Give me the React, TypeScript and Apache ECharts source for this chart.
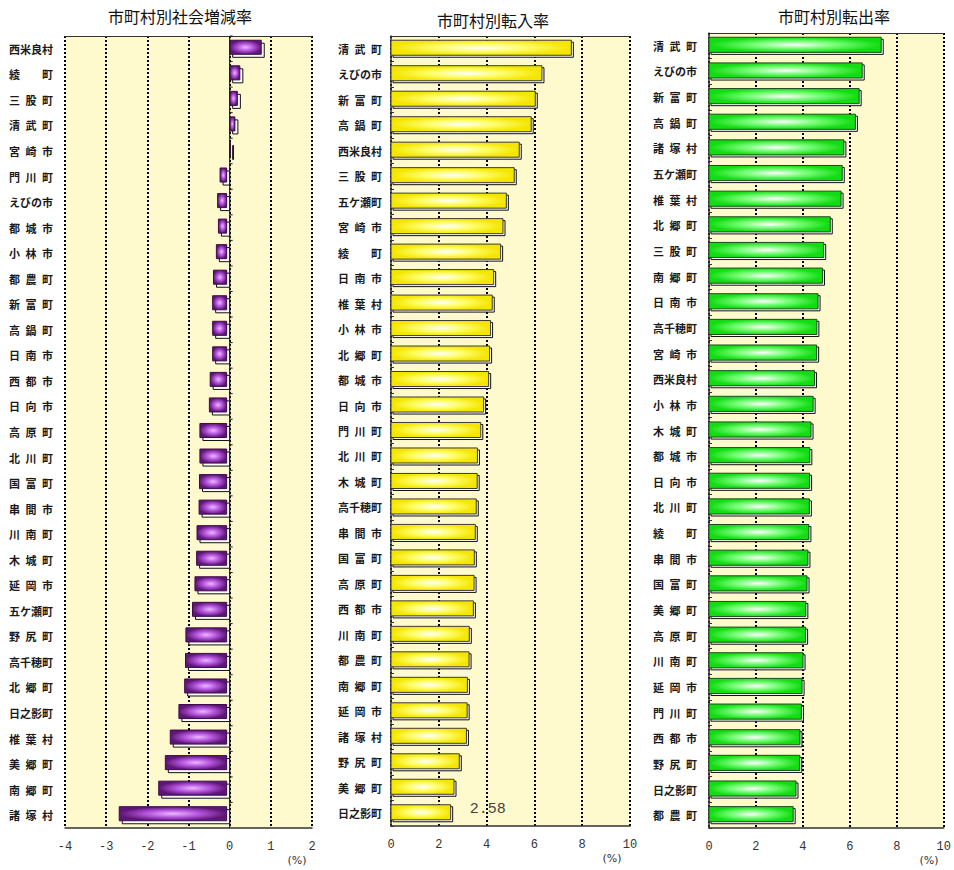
import React, { useEffect, useRef } from 'react';
import * as echarts from 'echarts';

// ---------- data ----------
const TITLES = ['市町村別社会増減率', '市町村別転入率', '市町村別転出率'];
const UNIT_LABEL = '(%)';

const SOCIAL_CATEGORIES = ['西米良村', '綾町', '三股町', '清武町', '宮崎市', '門川町', 'えびの市', '都城市', '小林市', '都農町', '新富町', '高鍋町', '日南市', '西都市', '日向市', '高原町', '北川町', '国富町', '串間市', '川南町', '木城町', '延岡市', '五ケ瀬町', '野尻町', '高千穂町', '北郷町', '日之影町', '椎葉村', '美郷町', '南郷町', '諸塚村'];
const SOCIAL_VALUES = [0.84, 0.32, 0.26, 0.2, 0.06, -0.16, -0.22, -0.2, -0.25, -0.32, -0.34, -0.34, -0.34, -0.4, -0.42, -0.65, -0.65, -0.66, -0.67, -0.72, -0.73, -0.77, -0.83, -0.99, -1.0, -1.02, -1.16, -1.37, -1.49, -1.65, -2.61];
const SOCIAL_AXIS = { min: -4, max: 2, interval: 1 };

const INFLOW_CATEGORIES = ['清武町', 'えびの市', '新富町', '高鍋町', '西米良村', '三股町', '五ケ瀬町', '宮崎市', '綾町', '日南市', '椎葉村', '小林市', '北郷町', '都城市', '日向市', '門川町', '北川町', '木城町', '高千穂町', '串間市', '国富町', '高原町', '西都市', '川南町', '都農町', '南郷町', '延岡市', '諸塚村', '野尻町', '美郷町', '日之影町'];
const INFLOW_VALUES = [7.63, 6.4, 6.12, 5.95, 5.45, 5.24, 4.91, 4.77, 4.67, 4.38, 4.32, 4.25, 4.21, 4.17, 3.96, 3.84, 3.7, 3.69, 3.65, 3.61, 3.57, 3.56, 3.53, 3.36, 3.35, 3.28, 3.27, 3.24, 2.94, 2.72, 2.58];
const INFLOW_LABELLED = ['日之影町'];

const OUTFLOW_CATEGORIES = ['清武町', 'えびの市', '新富町', '高鍋町', '諸塚村', '五ケ瀬町', '椎葉村', '北郷町', '三股町', '南郷町', '日南市', '高千穂町', '宮崎市', '西米良村', '小林市', '木城町', '都城市', '日向市', '北川町', '綾町', '串間市', '国富町', '美郷町', '高原町', '川南町', '延岡市', '門川町', '西都市', '野尻町', '日之影町', '都農町'];
const OUTFLOW_VALUES = [7.42, 6.61, 6.48, 6.32, 5.83, 5.76, 5.71, 5.25, 4.97, 4.92, 4.73, 4.68, 4.67, 4.58, 4.52, 4.43, 4.38, 4.37, 4.36, 4.34, 4.3, 4.26, 4.21, 4.2, 4.09, 4.05, 4.02, 3.96, 3.95, 3.79, 3.67];
const RATE_AXIS = { min: 0, max: 10, interval: 2 };

// ---------- helpers ----------
function distribute(name: string): string {
  const chars = Array.from(name);
  if (chars.length === 3) return chars.join('\u2002');
  if (chars.length === 2) return chars.join('\u3000\u3000');
  return name;
}

type BarOpts = {
  ratio: number;
  depth: number;
  stops: { offset: number; color: string }[];
  border: string;
  zeroAxis?: boolean;
  labelled?: string[];
  categories: string[];
};

function barRenderer(opts: BarOpts) {
  return (params: any, api: any) => {
    const v = api.value(0) as number;
    const idx = api.value(1) as number;
    const pv = api.coord([v, idx]);
    const p0 = api.coord([0, idx]);
    const rowH = api.size([0, 1])[1];
    const h = rowH * opts.ratio;
    const d = opts.depth;
    const yc = p0[1];
    const fy = yc - (h + d) / 2;
    let fx0, fx1, bx0, bx1;
    if (v >= 0) {
      fx0 = p0[0]; fx1 = pv[0] - d; bx0 = p0[0] + d; bx1 = pv[0];
    } else {
      fx0 = pv[0] - d; fx1 = p0[0] - d; bx0 = pv[0]; bx1 = p0[0];
    }
    const children: any[] = [
      {
        type: 'rect',
        shape: { x: bx0, y: fy + d, width: Math.max(bx1 - bx0, 0.8), height: h },
        style: { fill: '#ffffff', stroke: '#111111', lineWidth: 1 },
      },
      {
        type: 'rect',
        shape: { x: fx0, y: fy, width: Math.max(fx1 - fx0, 0.8), height: h },
        style: {
          fill: new echarts.graphic.RadialGradient(0.5, 0.5, 0.5, opts.stops),
          stroke: opts.border,
          lineWidth: 1,
        },
      },
    ];
    if (opts.zeroAxis) {
      children.push({
        type: 'line',
        shape: { x1: p0[0], y1: yc - rowH / 2, x2: p0[0], y2: yc + rowH / 2 },
        style: { stroke: '#222', lineWidth: 1.2 },
      });
      children.push({
        type: 'line',
        shape: { x1: p0[0], y1: yc - rowH / 2, x2: p0[0] + 3, y2: yc - rowH / 2 },
        style: { stroke: '#222', lineWidth: 1 },
      });
    }
    if (opts.labelled && opts.labelled.indexOf(opts.categories[idx]) >= 0) {
      children.push({
        type: 'text',
        x: pv[0] + 17,
        y: yc - 4,
        style: {
          text: v.toFixed(2),
          fill: '#444',
          fontSize: 15,
          fontFamily: 'Liberation Mono',
          align: 'left',
          verticalAlign: 'middle',
        },
      });
    }
    return { type: 'group', children };
  };
}

const GRIDS = [
  { left: 65, right: 642, top: 36, bottom: 42 },
  { left: 391, right: 324, top: 36, bottom: 44 },
  { left: 709, right: 7, top: 33, bottom: 42 },
];

const splitLine = { show: true, lineStyle: { color: '#000', type: [2, 2] as any, width: 2 } };
const xLabel = { fontFamily: 'Liberation Mono', fontSize: 12, color: '#333', margin: 13 };
const yLabel = { fontFamily: 'Noto Sans CJK JP', fontSize: 11, color: '#1a1a1a', fontWeight: 'bold' as const, formatter: distribute };

export default function App() {
  const ref = useRef<HTMLDivElement>(null);
  useEffect(() => {
    if (!ref.current) return;
    const chart = echarts.init(ref.current, null, { renderer: 'svg' });

    const purple = [
      { offset: 0, color: '#ecb8ff' },
      { offset: 0.5, color: '#b454dc' },
      { offset: 1, color: '#5e1676' },
    ];
    const yellow = [
      { offset: 0, color: '#ffffff' },
      { offset: 0.45, color: '#ffff70' },
      { offset: 1, color: '#f4e600' },
    ];
    const green = [
      { offset: 0, color: '#ffffff' },
      { offset: 0.45, color: '#7cff7c' },
      { offset: 1, color: '#12dc12' },
    ];

    const xAxes: any[] = [];
    const yAxes: any[] = [];
    const axisCfg = [SOCIAL_AXIS, RATE_AXIS, RATE_AXIS];
    const catsList = [SOCIAL_CATEGORIES, INFLOW_CATEGORIES, OUTFLOW_CATEGORIES];
    const margins = [12, 9, 12];
    GRIDS.forEach((g, i) => {
      const ax = axisCfg[i];
      xAxes.push({
        type: 'value', gridIndex: i, position: 'bottom', min: ax.min, max: ax.max, interval: ax.interval,
        axisLine: { show: true, lineStyle: { color: '#333', width: 1.5 } },
        axisTick: { show: false },
        axisLabel: xLabel,
        splitLine,
      });
      xAxes.push({
        type: 'value', gridIndex: i, position: 'top', min: ax.min, max: ax.max, interval: ax.interval,
        axisLine: { show: true, onZero: false, lineStyle: { color: '#333', width: 1 } },
        axisTick: { show: false }, axisLabel: { show: false }, splitLine: { show: false },
      });
      yAxes.push({
        type: 'category', gridIndex: i, inverse: true, data: catsList[i],
        axisLine: { show: i !== 0, onZero: false, lineStyle: { color: '#333', width: 1.5 } },
        axisTick: { show: i !== 0, inside: true, length: 3, lineStyle: { color: '#333' } },
        axisLabel: { ...yLabel, margin: margins[i] },
        splitLine: { show: false },
      });
    });

    const toData = (vals: number[]) => vals.map((v, i) => [v, i]);

    chart.setOption({
      animation: false,
      grid: GRIDS.map((g) => ({ ...g, show: true, backgroundColor: '#FFFACD', borderWidth: 0 })),
      xAxis: xAxes,
      yAxis: yAxes,
      series: [
        {
          type: 'custom', xAxisIndex: 0, yAxisIndex: 0, encode: { x: 0, y: 1 },
          data: toData(SOCIAL_VALUES),
          renderItem: barRenderer({ ratio: 0.55, depth: 3, stops: purple, border: '#3e0a4e', zeroAxis: true, categories: SOCIAL_CATEGORIES }),
        },
        {
          type: 'custom', xAxisIndex: 2, yAxisIndex: 1, encode: { x: 0, y: 1 },
          data: toData(INFLOW_VALUES),
          renderItem: barRenderer({ ratio: 0.59, depth: 2, stops: yellow, border: '#3a3a3a', labelled: INFLOW_LABELLED, categories: INFLOW_CATEGORIES }),
        },
        {
          type: 'custom', xAxisIndex: 4, yAxisIndex: 2, encode: { x: 0, y: 1 },
          data: toData(OUTFLOW_VALUES),
          renderItem: barRenderer({ ratio: 0.59, depth: 2, stops: green, border: '#1e4a1e', categories: OUTFLOW_CATEGORIES }),
        },
      ],
      graphic: [
        { type: 'text', x: 180, y: 16, style: { text: TITLES[0], fontSize: 16, fontFamily: 'Noto Sans CJK JP', fill: '#111', align: 'center', verticalAlign: 'middle' } },
        { type: 'text', x: 493, y: 20, style: { text: TITLES[1], fontSize: 16, fontFamily: 'Noto Sans CJK JP', fill: '#111', align: 'center', verticalAlign: 'middle' } },
        { type: 'text', x: 834, y: 16, style: { text: TITLES[2], fontSize: 16, fontFamily: 'Noto Sans CJK JP', fill: '#111', align: 'center', verticalAlign: 'middle' } },
        { type: 'text', x: 297, y: 860, style: { text: UNIT_LABEL, fontSize: 11, fontFamily: 'DejaVu Sans', fill: '#333', align: 'center', verticalAlign: 'middle' } },
        { type: 'text', x: 612, y: 858, style: { text: UNIT_LABEL, fontSize: 11, fontFamily: 'DejaVu Sans', fill: '#333', align: 'center', verticalAlign: 'middle' } },
        { type: 'text', x: 929, y: 860, style: { text: UNIT_LABEL, fontSize: 11, fontFamily: 'DejaVu Sans', fill: '#333', align: 'center', verticalAlign: 'middle' } },
      ],
    });
    return () => chart.dispose();
  }, []);
  return <div ref={ref} style={{ position: 'absolute', left: 0, top: 0, width: 954, height: 870 }} />;
}
